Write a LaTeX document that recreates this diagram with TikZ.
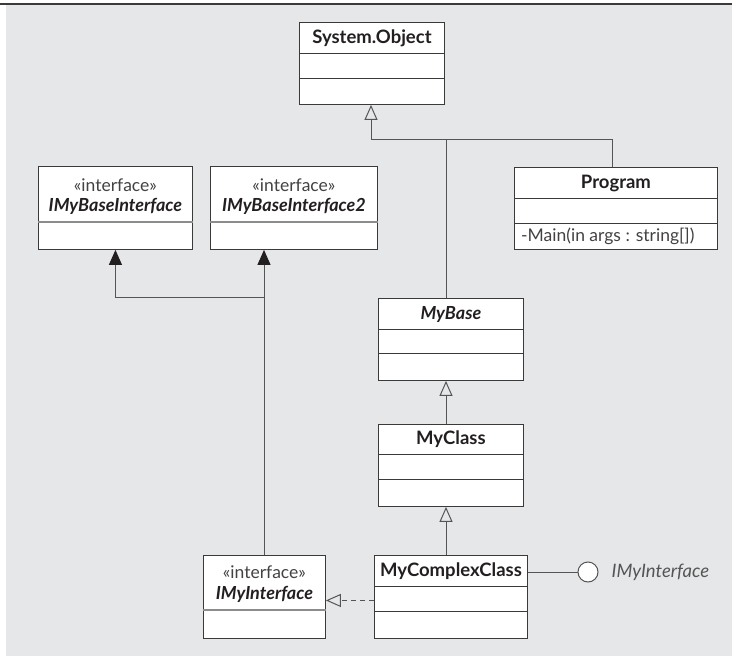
\documentclass[tikz,border=0pt]{standalone}
\usepackage{fontspec}
\setmainfont{Lato}
\usetikzlibrary{arrows.meta, positioning}
\definecolor{bgray}{HTML}{E6E7E9}
\definecolor{ink}{HTML}{231F20}
\definecolor{edge}{HTML}{3A3A3A}
\definecolor{wire}{HTML}{555555}
\definecolor{sepgray}{HTML}{8C8C8C}

\tikzset{
  cls/.style={draw=edge, fill=white, line width=0.9pt, inner sep=0pt, anchor=north west},
  sep/.style={draw=edge, line width=0.8pt},
  isep/.style={draw=sepgray, line width=1.6pt},
  title/.style={font=\fontsize{18.5}{21}\selectfont\bfseries, text=ink, inner sep=0pt},
  ititle/.style={title, font=\fontsize{18}{21}\selectfont\bfseries\itshape},
  stereo/.style={font=\fontsize{17.5}{21}\selectfont, text=ink!85, inner sep=0pt},
  wire/.style={draw=wire, line width=1pt},
  inh/.style={wire, -{Triangle[open, width=13pt, length=15pt]}},
  real/.style={wire, -{Triangle[width=13pt, length=15pt, color=ink]}},
  impl/.style={wire, dashed, dash pattern=on 5pt off 4pt, -{Triangle[open, width=13pt, length=15pt]}},
  lolli/.style={circle, draw=wire, fill=white, line width=1pt, minimum size=20pt, inner sep=0pt}
}

% name, left, top, width, height, dividers
\newcommand{\umlclass}[6]{%
  \node[cls, minimum width=#4pt, minimum height=#5pt] (#1) at (#2,#3) {};
  \foreach \d in {#6}
    \draw[sep] ([yshift=-\d]#1.north west) -- ([yshift=-\d]#1.north east);
}

\begin{document}
\begin{tikzpicture}[x=1pt, y=-1pt]
  \useasboundingbox (0,0) rectangle (732,656);
  \fill[bgray] (6,5) rectangle (732,656);
  \draw[edge, line width=1.4pt] (0,4) -- (732,4);

  % classes
  \umlclass{sysobj}{299}{22}{145}{82}{31,56}
  \node[title] (sysobj-name) at ([yshift=-16]sysobj.north) {System.Object};

  \umlclass{program}{514}{167}{203}{82}{31,56}
  \node[title] (program-name) at ([yshift=-16]program.north) {Program};
  \node[stereo, anchor=west] (program-main) at ([xshift=7,yshift=-69]program.north west) {-Main(in args : string[])};

  \umlclass{mybase}{378}{298}{145}{82}{31,55}
  \node[ititle] (mybase-name) at ([yshift=-16]mybase.north) {MyBase};

  \umlclass{myclass}{378}{424}{145}{82}{30,55}
  \node[title] (myclass-name) at ([yshift=-15]myclass.north) {MyClass};

  \umlclass{mycomplex}{374}{555}{153}{83}{31,56}
  \node[title] (mycomplex-name) at ([yshift=-16]mycomplex.north) {MyComplexClass};

  % interfaces
  \node[cls, minimum width=154pt, minimum height=83pt] (ibase) at (38,166) {};
  \draw[isep] ([yshift=-56]ibase.north west) -- ([yshift=-56]ibase.north east);
  \node[stereo] (ibase-st) at ([yshift=-19]ibase.north) {«interface»};
  \node[ititle] (ibase-name) at ([yshift=-40]ibase.north) {IMyBaseInterface};

  \node[cls, minimum width=167pt, minimum height=83pt] (ibase2) at (210,166) {};
  \draw[isep] ([yshift=-56]ibase2.north west) -- ([yshift=-56]ibase2.north east);
  \node[stereo] (ibase2-st) at ([yshift=-19]ibase2.north) {«interface»};
  \node[ititle] (ibase2-name) at ([yshift=-40]ibase2.north) {IMyBaseInterface2};

  \node[cls, minimum width=122pt, minimum height=83pt] (imyint) at (203,555) {};
  \draw[isep] ([yshift=-55]imyint.north west) -- ([yshift=-55]imyint.north east);
  \node[stereo] (imyint-st) at ([yshift=-17]imyint.north) {«interface»};
  \node[ititle] (imyint-name) at ([yshift=-39]imyint.north) {IMyInterface};

  % lollipop
  \node[lolli] (lol) at (588,572) {};
  \node[stereo, text=wire, font=\fontsize{18.5}{21}\selectfont\itshape, anchor=west] (lol-name) at ([xshift=13]lol.east) {IMyInterface};

  % connectors
  \coordinate (spine) at (446,139);
  \coordinate (bus) at (371,139);
  \coordinate (pj) at (612,139);
  \coordinate (rv) at (264,297);
  \draw[inh] (spine |- mybase.north) -- (spine) -- (bus) -- (bus |- sysobj.south);
  \draw[wire] (pj |- program.north) -- (pj) -- (spine);
  \draw[inh] (spine |- myclass.north) -- (spine |- mybase.south);
  \draw[inh] (spine |- mycomplex.north) -- (spine |- myclass.south);
  \draw[real] (rv |- imyint.north) -- (rv |- ibase2.south);
  \draw[real] (rv) -| (ibase.south);
  \draw[impl] ([yshift=-3.5]mycomplex.west) -- ([yshift=-3.5]mycomplex.west -| imyint.east);
  \draw[wire] (mycomplex.east |- lol) -- (lol.west);
\end{tikzpicture}
\end{document}
